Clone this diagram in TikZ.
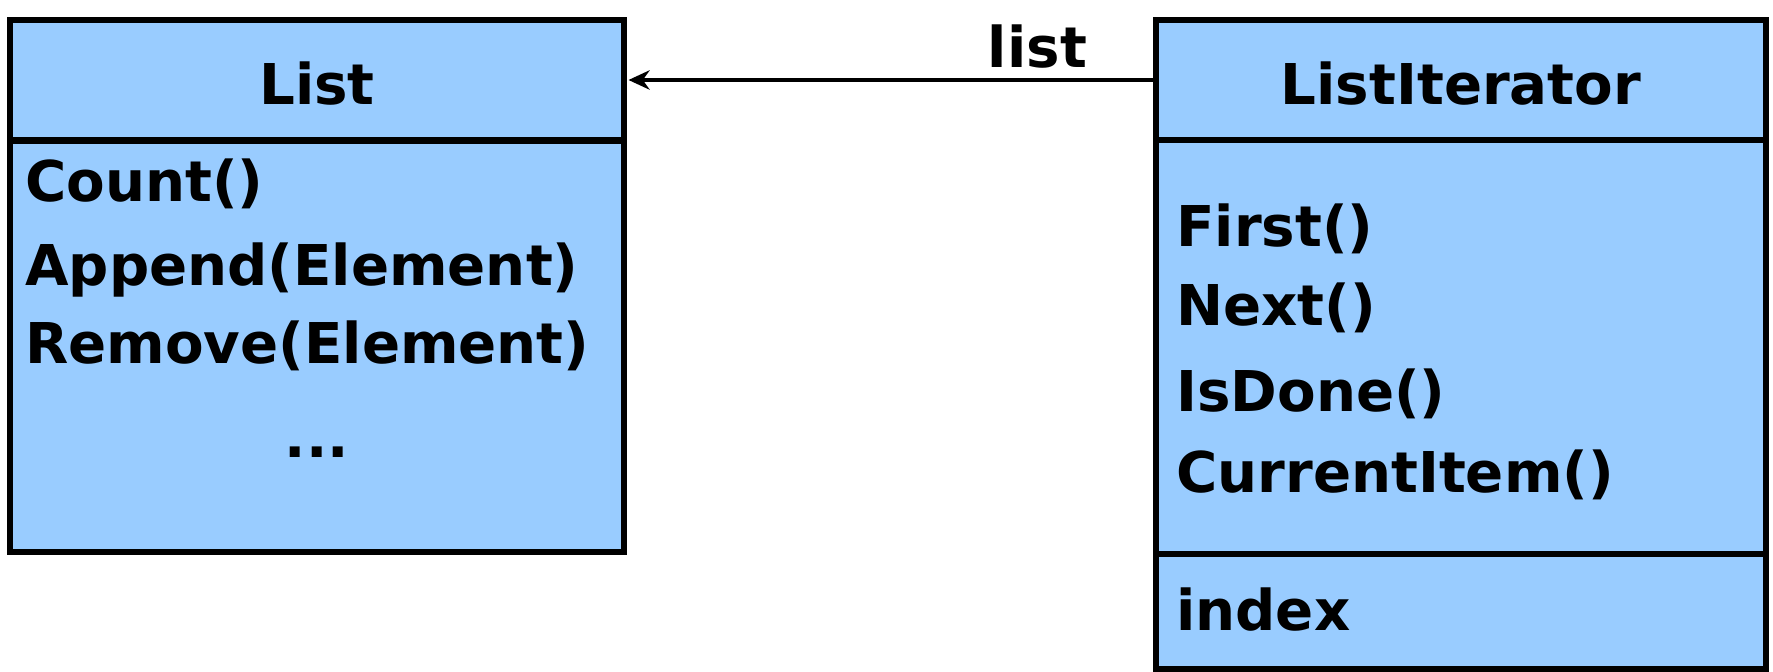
\documentclass[tikz,border=0pt]{standalone}
\usepackage{fontspec}
\setmainfont{DejaVu Sans}
\usetikzlibrary{arrows.meta}
\definecolor{classblue}{RGB}{153,204,255}
\begin{document}
\begin{tikzpicture}[x=0.02cm,y=-0.02cm,
                    comp/.style={rectangle,draw,fill=classblue,line width=3.2pt,inner sep=0pt},
                    member/.style={anchor=base west,inner sep=0pt,font=\bfseries\fontsize{32}{38}\selectfont},
                    title/.style={anchor=base,inner sep=0pt,font=\bfseries\fontsize{32}{38}\selectfont}
                   ]
  \useasboundingbox (0,0) rectangle (1773,672);
  % class List
  \node[comp,minimum width=12.28cm,minimum height=2.4cm] (listhead) at (317,80) {};
  \node[comp,minimum width=12.28cm,minimum height=8.22cm] (listbody) at (317,346.5) {};
  \node[title] (listname) at (317,105) {List};
  \node[member] (count) at (25,201) {Count()};
  \node[member] (append) at (25,285) {Append(Element)};
  \node[member] (remove) at (25,363) {Remove(Element)};
  \node[title] (dots) at (317,457) {...};
  % class ListIterator
  \node[comp,minimum width=12.2cm,minimum height=2.4cm] (iterhead) at (1461,80) {};
  \node[comp,minimum width=12.2cm,minimum height=8.28cm] (iterbody) at (1461,347) {};
  \node[comp,minimum width=12.2cm,minimum height=2.3cm] (iterattr) at (1461,611.5) {};
  \node[title] (itername) at (1461,105) {ListIterator};
  \node[member] (first) at (1176,246) {First()};
  \node[member] (next) at (1176,325) {Next()};
  \node[member] (isdone) at (1176,411) {IsDone()};
  \node[member] (current) at (1176,492) {CurrentItem()};
  \node[member] (index) at (1176,630) {index};
  % association
  \draw[line width=2.4pt,-{Stealth[length=12pt,width=11pt]},shorten >=1pt]
       (iterhead.west) -- (listhead.east)
       node[pos=0.22,above=0.2cm,inner sep=0pt,font=\bfseries\fontsize{32}{38}\selectfont] (listlabel) {list};
\end{tikzpicture}
\end{document}
